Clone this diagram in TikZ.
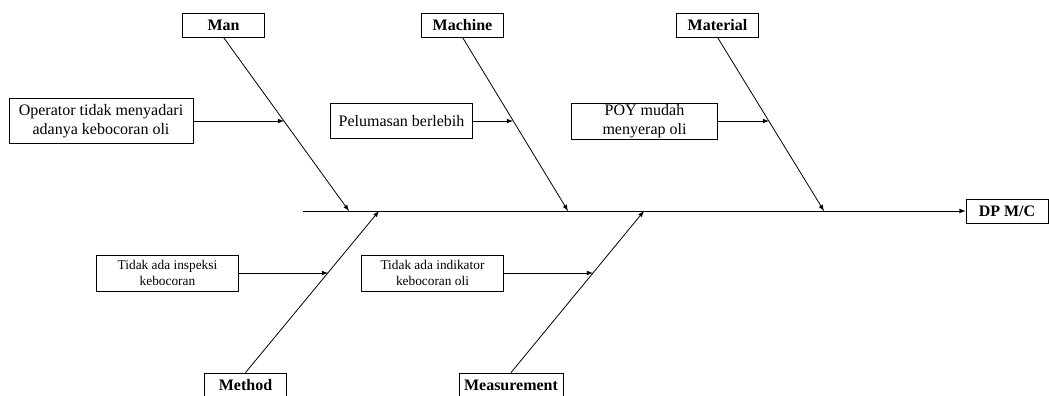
\documentclass[tikz,border=0pt]{standalone}
\usepackage{fontspec}
\setmainfont{Liberation Serif}
\begin{document}
\begin{tikzpicture}[x=0.75pt, y=-0.75pt, >=latex, line width=0.6pt,
  cat/.style={draw, inner sep=0pt, minimum height=18pt, font=\fontsize{12}{14}\selectfont\bfseries},
  cause/.style={draw, inner sep=0pt, align=center, font=\fontsize{12}{14}\selectfont},
  subcause/.style={draw, inner sep=0pt, align=center, minimum width=107pt, minimum height=27pt, font=\fontsize{10}{11.5}\selectfont}]
  \useasboundingbox (0,0) rectangle (1049,396);
  % Categories
  \node[cat, minimum width=62pt] (man) at (223.5,25) {Man};
  \node[cat, minimum width=62pt] (machine) at (462.5,25) {Machine};
  \node[cat, minimum width=62pt] (material) at (717.5,25) {Material};
  \node[cat, minimum width=62pt] (method) at (245.5,385) {Method};
  \node[cat, minimum width=78pt] (measure) at (511,385) {Measurement};
  \node[cat, minimum width=61.5pt] (dp) at (1007,211) {DP M/C};
  % Causes
  \node[cause, minimum width=138pt, minimum height=34pt] (op) at (101,121) {Operator tidak menyadari\\adanya kebocoran oli};
  \node[cause, minimum width=107pt, minimum height=26pt] (lube) at (401.5,121) {Pelumasan berlebih};
  \node[cause, minimum width=109pt, minimum height=27pt] (poy) at (644.5,121) {POY mudah\\menyerap oli};
  \node[subcause] (insp) at (167.5,273) {Tidak ada inspeksi\\kebocoran};
  \node[subcause] (ind) at (432.5,273) {Tidak ada indikator\\kebocoran oli};
  % Spine and bones
  \coordinate (tail) at (303,211);
  \coordinate (manhead) at (349,211);
  \coordinate (machhead) at (568,211);
  \coordinate (mathead) at (824,211);
  \coordinate (methhead) at (379,211);
  \coordinate (meashead) at (644,211);
  \draw[->] (tail) -- (dp);
  \draw[->] (man.south) -- (manhead);
  \draw[->] (machine.south) -- (machhead);
  \draw[->] (material.south) -- (mathead);
  \draw[->] (method.north) -- (methhead);
  \draw[->] (measure.north) -- (meashead);
  % Cause arrows
  \coordinate (opend) at (284,121);
  \coordinate (lubeend) at (513,121);
  \coordinate (poyend) at (769,121);
  \coordinate (inspend) at (328,273);
  \coordinate (indend) at (593,273);
  \draw[->] (op) -- (opend);
  \draw[->] (lube) -- (lubeend);
  \draw[->] (poy) -- (poyend);
  \draw[->] (insp) -- (inspend);
  \draw[->] (ind) -- (indend);
\end{tikzpicture}
\end{document}
